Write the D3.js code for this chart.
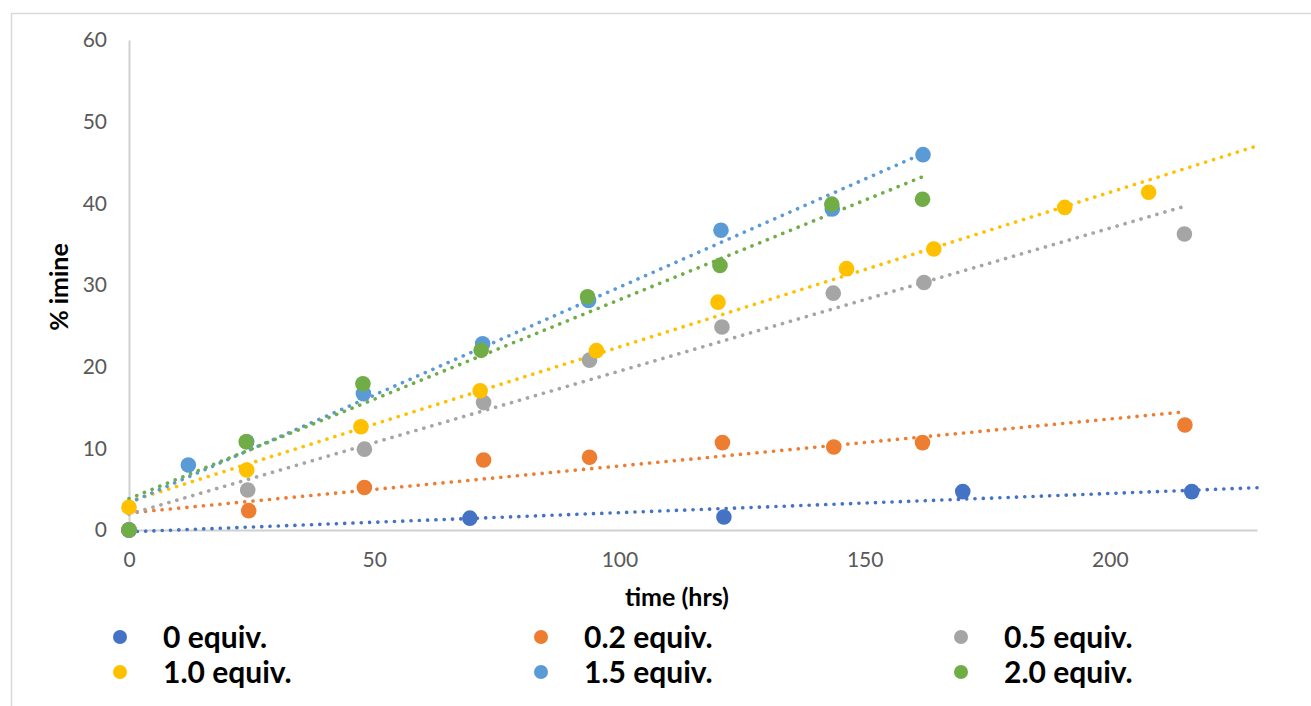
<!DOCTYPE html>
<html>
<head>
<meta charset="utf-8">
<script src="https://cdn.jsdelivr.net/npm/d3@7"></script>
<style>
  html, body { margin: 0; padding: 0; background: #fff; }
  svg { display: block; }
  text { font-family: Lato, "Open Sans", "DejaVu Sans", sans-serif; }
</style>
</head>
<body>
<svg id="chart" width="1311" height="706"></svg>
<script>
// ---- data ----
const seriesNames = ["0 equiv.", "0.2 equiv.", "0.5 equiv.", "1.0 equiv.", "1.5 equiv.", "2.0 equiv."];
const seriesColors = ["#4472C4", "#ED7D31", "#A5A5A5", "#FFC000", "#5B9BD5", "#70AD47"];

const time0  = [0, 69.5, 121.3, 170.0, 216.7];
const imine0 = [0, 1.45, 1.6, 4.7, 4.7];

const time02  = [0, 24.4, 48.0, 72.3, 93.9, 121.0, 143.7, 161.8, 215.3];
const imine02 = [0, 2.37, 5.2, 8.57, 8.9, 10.7, 10.16, 10.7, 12.86];

const time05  = [0, 24.2, 48.0, 72.3, 93.9, 120.9, 143.6, 162.1, 215.2];
const imine05 = [0, 4.9, 9.9, 15.6, 20.8, 24.86, 29.0, 30.3, 36.24];

const time10  = [0, 24.0, 47.3, 71.6, 95.3, 120.1, 146.3, 164.1, 190.8, 207.9];
const imine10 = [2.78, 7.35, 12.65, 17.06, 21.96, 27.9, 32.0, 34.4, 39.5, 41.35];

const time15  = [0, 12.1, 24.0, 47.8, 72.1, 93.7, 120.7, 143.4, 161.9];
const imine15 = [0, 7.96, 10.8, 16.7, 22.8, 28.1, 36.7, 39.3, 45.96];

const time20  = [0, 23.9, 47.7, 71.8, 93.5, 120.5, 143.3, 161.8];
const imine20 = [0, 10.8, 17.9, 22.0, 28.57, 32.4, 39.9, 40.5];

// trendline forward forecast end (null = ends at last point)
const trendEnd = [230, null, null, 230, null, null];

const xTicks = [0, 50, 100, 150, 200];
const yTicks = [0, 10, 20, 30, 40, 50, 60];
const xDomain = [0, 230];
const yDomain = [0, 60];
const xTitle = "time (hrs)";
const yTitle = "% imine";

const times = [time0, time02, time05, time10, time15, time20];
const imines = [imine0, imine02, imine05, imine10, imine15, imine20];

// ---- layout ----
const svg = d3.select("#chart");
const plot = { left: 129, right: 1257, top: 40, bottom: 530 };

const x = d3.scaleLinear().domain(xDomain).range([plot.left, plot.right]);
const y = d3.scaleLinear().domain(yDomain).range([plot.bottom, plot.top]);

// chart border
svg.append("rect")
  .attr("x", 11.5).attr("y", 13.5)
  .attr("width", 1320).attr("height", 720)
  .attr("fill", "none").attr("stroke", "#D9D9D9").attr("stroke-width", 1.5);

// axes
const xAxis = svg.append("g")
  .attr("transform", `translate(0,${plot.bottom})`)
  .call(d3.axisBottom(x).tickValues(xTicks).tickSize(0).tickPadding(22));
const yAxis = svg.append("g")
  .attr("transform", `translate(${plot.left},0)`)
  .call(d3.axisLeft(y).tickValues(yTicks).tickSize(0).tickPadding(22));

[xAxis, yAxis].forEach(g => {
  g.select(".domain").attr("stroke", "#D0D0D0").attr("stroke-width", 2);
  g.selectAll("text")
    .attr("fill", "#595959")
    .style("font-size", "21px")
    .style("font-family", "Lato, 'Open Sans', sans-serif");
});
xAxis.selectAll("text").attr("dy", "0.71em");

// axis titles
svg.append("text")
  .attr("x", 677).attr("y", 606)
  .attr("text-anchor", "middle")
  .style("font-size", "25px").style("font-weight", "bold")
  .attr("fill", "#000")
  .text(xTitle);

svg.append("text")
  .attr("transform", `translate(68,${(plot.top + plot.bottom) / 2 + 2}) rotate(-90)`)
  .attr("text-anchor", "middle")
  .style("font-size", "25px").style("font-weight", "bold")
  .attr("fill", "#000")
  .text(yTitle);

// linear regression
function fit(xs, ys) {
  const n = xs.length;
  const mx = d3.mean(xs), my = d3.mean(ys);
  let sxy = 0, sxx = 0;
  for (let i = 0; i < n; i++) { sxy += (xs[i] - mx) * (ys[i] - my); sxx += (xs[i] - mx) ** 2; }
  const m = sxy / sxx;
  return { m, b: my - m * mx };
}

const line = d3.line().x(d => x(d[0])).y(d => y(d[1]));

// trendlines
seriesNames.forEach((name, i) => {
  const { m, b } = fit(times[i], imines[i]);
  const x0 = d3.min(times[i]);
  const x1 = trendEnd[i] != null ? trendEnd[i] : d3.max(times[i]);
  svg.append("path")
    .datum([[x0, m * x0 + b], [x1, m * x1 + b]])
    .attr("d", line)
    .attr("fill", "none")
    .attr("stroke", seriesColors[i])
    .attr("stroke-width", 3.6)
    .attr("stroke-linecap", "round")
    .attr("stroke-dasharray", "0.1 8.2");
});

// markers
seriesNames.forEach((name, i) => {
  svg.append("g").selectAll("circle")
    .data(times[i].map((t, j) => [t, imines[i][j]]))
    .join("circle")
    .attr("cx", d => x(d[0]))
    .attr("cy", d => y(d[1]))
    .attr("r", 7.8)
    .attr("fill", seriesColors[i]);
});

// legend
const legendCols = d3.scaleOrdinal().domain([0, 1, 2]).range([120, 541, 961]);
const legendRows = d3.scaleOrdinal().domain([0, 1]).range([637, 672]);
const legend = svg.append("g");
seriesNames.forEach((name, i) => {
  const cx = legendCols(i % 3), cy = legendRows(Math.floor(i / 3));
  legend.append("circle").attr("cx", cx).attr("cy", cy).attr("r", 7).attr("fill", seriesColors[i]);
  legend.append("text")
    .attr("x", cx + 43).attr("y", cy)
    .attr("dy", "0.36em")
    .style("font-size", "30px").style("font-weight", "bold")
    .attr("fill", "#000")
    .text(name);
});
</script>
</body>
</html>
